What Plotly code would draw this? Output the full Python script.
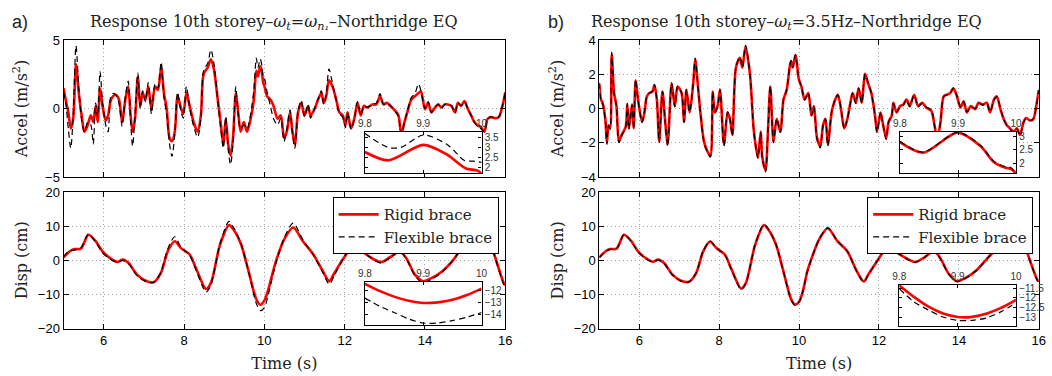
import plotly.graph_objects as go

# ---------------- data ----------------
acc_a_t = [5.00,5.06,5.12,5.18,5.24,5.31,5.38,5.45,5.52,5.60,5.68,5.74,5.80,5.85,5.91,5.97,6.05,6.11,6.17,6.23,
           6.30,6.38,6.46,6.54,6.61,6.67,6.72,6.78,6.85,6.91,6.97,7.04,7.11,7.19,7.28,7.35,7.43,7.50,7.57,7.64,
           7.70,7.77,7.84,7.91,7.98,8.06,8.14,8.24,8.34,8.42,8.49,8.59,8.67,8.75,8.84,8.92,8.98,9.04,9.10,9.16,
           9.22,9.29,9.35,9.41,9.49,9.57,9.66,9.74,9.80,9.84,9.90,9.94,9.97,10.00,10.07,10.15,10.23,10.33,10.41,10.49,
           10.56,10.64,10.70,10.76,10.84,10.92,11.00,11.09,11.15,11.25,11.34,11.42,11.48,11.54,11.61,11.70,11.79,11.87,11.95,12.02,
           12.07,12.16,12.24,12.32,12.40,12.48,12.56,12.69,12.79,12.88,12.97,13.05,13.14,13.26,13.34,13.41,13.49,13.57,13.66,13.75,
           13.84,13.90,14.00,14.08,14.16,14.25,14.33,14.41,14.49,14.57,14.66,14.75,14.82,14.90,14.98,15.07,15.15,15.23,15.31,15.39,
           15.48,15.56,15.64,15.76,15.84,15.93,16.00]
acc_a_rigid = [1.48,0.54,-0.28,-1.46,-0.75,3.24,1.13,-0.5,-1.69,-1.22,-0.5,-0.99,0.19,-0.99,1.48,0.19,-0.87,-0.5,0.54,0.89,
               1.0,0.66,-0.99,0.66,1.6,-0.5,-1.69,-0.75,2.3,0.19,1.13,0.66,1.6,-0.05,1.6,1.36,3.0,1.13,-0.05,-2.16,
               -2.39,-1.69,0.89,0.19,-0.4,1.13,0.19,-0.99,-1.69,-0.5,2.54,3.0,3.6,2.77,0.66,-1.22,-2.63,-0.75,-2.63,-3.45,
               -2.16,1.13,-0.28,-1.69,-0.99,-1.69,-0.75,0.66,2.76,2.34,3.1,2.66,1.93,1.66,0.89,0.66,0.19,-0.75,-0.5,-2.16,
               -1.69,-0.28,-1.69,-2.63,-0.28,0.42,-0.5,0.19,-0.5,-0.05,0.66,1.13,0.42,0.89,2.07,1.6,0.66,-0.28,-0.5,-1.22,
               -0.28,-1.46,-0.75,0.42,-0.5,0.19,0.07,0.3,0.3,0.89,0.3,0.42,0.19,-0.17,-0.5,-1.9,-0.99,-0.17,0.66,0.89,
               1.13,1.24,-0.05,0.42,-0.28,0.07,0.3,0.07,0.3,0.3,0.19,-0.28,0.42,0.19,0.54,-0.05,-0.5,-0.99,-1.22,-1.34,
               -1.69,-0.75,-0.63,-0.7,-0.63,0.19,1.2]
acc_a_flex = [1.2,0.3,-1.5,-2.9,-0.5,4.6,1.5,-0.8,-1.7,-1.0,-1.2,-2.6,0.4,-0.6,2.7,0.5,-1.2,-1.7,0.8,1.1,
              1.0,0.4,-1.3,0.9,2.0,-0.9,-2.75,-0.5,2.6,0.0,1.3,0.5,1.9,-0.4,1.8,1.5,3.4,0.8,-0.4,-2.6,
              -3.5,-1.9,1.2,0.0,-0.7,1.6,0.1,-1.3,-2.1,-0.7,2.8,3.3,4.3,3.2,0.6,-1.6,-2.9,-0.6,-3.0,-4.1,
              -2.5,1.6,-0.5,-1.5,-1.2,-1.5,-0.4,1.4,3.69,2.99,3.62,3.12,2.35,2.24,1.2,0.2,-0.75,-1.2,-0.7,-2.4,
              -1.5,-0.1,-1.8,-2.9,-0.2,0.6,-0.6,0.3,-0.7,0.0,0.7,1.3,0.3,1.0,2.9,1.8,0.6,-0.4,-0.6,-1.4,
              -0.3,-1.5,-0.8,0.5,-0.5,0.2,0.1,0.3,0.4,1.1,0.3,0.4,0.2,-0.2,-0.6,-1.9,-1.0,-0.1,0.8,1.1,
              1.8,1.3,0.0,0.5,-0.3,0.1,0.3,0.0,0.3,0.3,0.2,-0.3,0.4,0.2,0.5,0.0,-0.5,-1.0,-1.3,-1.46,
              -1.7,-0.8,-0.6,-0.7,-0.6,0.2,1.2]

acc_b_t = [5.00,5.04,5.08,5.15,5.19,5.23,5.27,5.31,5.37,5.43,5.49,5.56,5.66,5.70,5.74,5.82,5.86,5.91,5.97,6.07,
           6.13,6.19,6.25,6.33,6.38,6.44,6.50,6.58,6.65,6.71,6.81,6.89,6.96,7.06,7.12,7.18,7.26,7.35,7.40,7.47,
           7.53,7.62,7.70,7.78,7.84,7.89,7.96,8.02,8.12,8.21,8.27,8.33,8.42,8.52,8.58,8.66,8.77,8.87,8.97,9.04,
           9.08,9.16,9.22,9.28,9.36,9.44,9.53,9.61,9.69,9.77,9.80,9.84,9.91,9.95,9.97,10.00,10.06,10.14,10.23,10.31,
           10.37,10.45,10.53,10.60,10.66,10.72,10.83,10.97,11.05,11.13,11.21,11.27,11.34,11.42,11.49,11.57,11.65,11.73,11.81,11.90,
           11.95,12.04,12.09,12.18,12.24,12.32,12.36,12.44,12.53,12.61,12.69,12.77,12.88,12.98,13.08,13.18,13.31,13.39,13.46,13.54,
           13.62,13.70,13.78,13.86,13.94,14.04,14.12,14.20,14.30,14.41,14.49,14.60,14.70,14.78,14.88,14.95,15.04,15.12,15.20,15.28,
           15.37,15.45,15.53,15.62,15.68,15.78,15.86,15.95,16.00]
acc_b_rigid = [1.46,0.53,0.34,-0.6,-2.0,-0.98,-1.16,3.15,0.9,0.15,-1.92,-1.54,-1.07,0.24,-1.16,0.24,-1.16,1.65,0.53,-0.79,
               -0.23,0.71,0.9,1.0,1.37,0.53,-1.92,1.0,-0.79,-2.1,1.46,0.15,1.28,0.9,-0.79,1.09,-0.23,1.46,2.87,1.28,
               -0.23,-1.92,-2.48,-2.76,1.0,-0.23,0.15,1.09,-2.1,-0.23,-0.6,-1.54,2.4,2.97,2.4,3.62,2.03,-1.35,-2.85,-1.35,
               -2.85,-3.6,-1.35,1.28,-1.92,-0.6,-1.35,0.53,1.09,2.5,2.78,2.4,3.12,2.6,2.06,1.66,1.28,0.53,0.9,-0.41,
               0.15,-1.73,-2.2,-0.98,-0.6,-2.1,-0.04,0.81,-0.04,-1.16,-0.6,0.15,0.9,0.34,1.18,0.34,2.03,1.46,0.9,-0.41,
               -1.35,-0.23,-0.79,-1.73,-0.79,-0.41,0.34,-0.23,0.15,0.24,0.53,0.15,0.81,0.15,0.34,0.06,-0.13,-0.98,-1.8,-0.79,
               0.71,0.81,0.9,1.18,0.81,0.06,0.43,-0.23,0.15,-0.04,0.34,0.24,0.34,-0.23,0.53,0.71,-0.04,-0.6,-0.98,-1.16,
               -1.35,-1.16,-1.54,-0.79,-0.56,-0.7,-0.64,0.34,1.09]
acc_b_flex = [1.5,0.5,0.3,-0.7,-2.1,-1.0,-1.2,3.3,0.9,0.1,-2.0,-1.6,-1.1,0.3,-1.2,0.2,-1.2,1.7,0.5,-0.8,
              -0.2,0.7,0.9,1.0,1.4,0.5,-2.0,1.0,-0.8,-2.2,1.5,0.1,1.3,0.9,-0.8,1.1,-0.2,1.5,2.95,1.3,
              -0.2,-2.0,-2.5,-2.85,1.0,-0.2,0.1,1.1,-2.2,-0.2,-0.6,-1.6,2.4,3.0,2.4,3.7,2.0,-1.4,-2.9,-1.4,
              -2.9,-3.7,-1.4,1.3,-2.0,-0.6,-1.4,0.5,1.1,2.5,2.8,2.4,3.15,2.6,2.1,1.68,1.3,0.5,0.9,-0.4,
              0.1,-1.8,-2.3,-1.0,-0.6,-2.2,0.0,0.8,0.0,-1.2,-0.6,0.1,0.9,0.3,1.2,0.3,2.0,1.5,0.9,-0.4,
              -1.4,-0.2,-0.8,-1.8,-0.8,-0.4,0.3,-0.2,0.1,0.2,0.5,0.1,0.8,0.1,0.3,0.1,-0.1,-1.0,-1.85,-0.8,
              0.7,0.8,0.9,1.2,0.8,0.1,0.4,-0.2,0.1,0.0,0.3,0.2,0.3,-0.2,0.5,0.7,0.0,-0.6,-1.0,-1.2,
              -1.4,-1.2,-1.6,-0.8,-0.6,-0.7,-0.6,0.3,1.1]

disp_t = [5.00,5.08,5.15,5.27,5.43,5.62,5.80,5.97,6.13,6.34,6.47,6.62,6.83,7.03,7.24,7.42,7.60,7.77,7.93,8.14,
          8.30,8.55,8.67,8.90,9.12,9.24,9.42,9.61,9.80,9.90,10.00,10.10,10.20,10.31,10.51,10.72,10.96,11.21,11.44,11.62,
          11.74,11.99,12.19,12.44,12.68,12.91,13.13,13.38,13.54,13.75,13.95,14.16,14.44,14.73,14.90,15.08,15.35,15.60,15.71,15.96,
          16.00]
disp_a_rigid = [0.9,1.8,2.6,3.3,3.4,7.5,5.6,2.6,0.9,-0.5,0.2,-0.8,-4.2,-5.9,-6.4,-3.8,2.8,5.6,3.5,1.7,
                -2.4,-8.4,-6.6,4.7,10.3,8.9,4.7,-3.3,-11.4,-13.0,-11.8,-8.5,-4.0,0.5,6.5,9.6,5.6,1.9,-2.8,-6.1,
                -3.8,0.9,3.7,2.5,0.6,-0.5,0.9,2.6,0.5,-4.2,-6.1,-5.2,-3.1,0.5,3.5,6.5,11.5,6.3,2.3,-6.6,
                -7.3]
disp_a_flex = [1.0,2.2,2.8,3.0,3.6,7.7,5.3,2.2,0.6,-0.6,0.0,-1.0,-4.5,-6.1,-6.5,-3.6,3.5,6.9,3.8,1.5,
               -2.8,-9.3,-7.2,5.0,11.4,9.5,4.9,-3.5,-12.6,-14.75,-13.85,-10.0,-5.0,0.0,7.0,10.9,6.0,1.8,-3.2,-7.0,
               -4.5,1.0,4.2,2.6,0.5,-0.8,0.8,2.5,0.3,-4.5,-6.6,-5.6,-3.3,0.5,3.6,6.7,12.0,6.5,2.2,-7.0,
               -7.8]
disp_b_rigid = [0.9,1.8,2.6,3.3,3.4,7.5,5.6,2.6,0.9,-0.4,0.2,-0.8,-4.2,-5.9,-6.3,-3.8,2.6,5.5,3.6,1.7,
                -2.4,-8.3,-6.6,4.5,10.3,8.9,4.7,-3.3,-11.37,-12.97,-12.1,-8.8,-3.5,0.5,6.3,9.4,5.6,2.6,-3.1,-6.2,
                -4.0,0.4,3.5,2.3,0.6,-0.5,0.8,2.7,0.5,-4.0,-6.1,-5.2,-2.9,0.8,2.9,6.0,10.0,6.3,2.3,-5.6,
                -6.1]
disp_b_flex = [0.9,1.8,2.6,3.2,3.4,7.6,5.6,2.5,0.8,-0.5,0.1,-0.9,-4.3,-6.0,-6.4,-3.8,2.7,5.6,3.6,1.6,
               -2.5,-8.5,-6.7,4.6,10.5,9.0,4.7,-3.4,-11.53,-13.15,-12.25,-8.9,-3.6,0.4,6.4,9.5,5.6,2.6,-3.2,-6.3,
               -4.1,0.4,3.6,2.3,0.5,-0.6,0.8,2.7,0.4,-4.1,-6.2,-5.3,-3.0,0.8,3.0,6.1,10.2,6.3,2.2,-5.8,
               -6.3]

# zoomed insets (t = 9.8 ... 10 s)
zin_a_acc_t_r = [9.80,9.84,9.90,9.939,9.959,9.973,9.993,10.00]
zin_a_acc_r = [2.76,2.34,3.12,2.66,2.22,1.93,1.82,1.66]
zin_a_acc_t_f = [9.80,9.84,9.862,9.90,9.942,9.97,9.985,10.00]
zin_a_acc_f = [3.69,2.99,2.99,3.62,3.12,2.34,2.30,2.24]
zin_b_acc_t = [9.80,9.84,9.899,9.939,9.962,9.982,9.99,10.00]
zin_b_acc_r = [2.78,2.40,3.12,2.63,2.06,1.86,1.83,1.66]
zin_b_acc_f = [2.80,2.42,3.13,2.66,2.09,1.90,1.88,1.68]
zin_disp_t = [9.80,9.825,9.85,9.875,9.90,9.925,9.95,9.975,10.00]
zin_a_disp_r = [-11.4,-12.0,-12.49,-12.85,-13.03,-12.98,-12.76,-12.35,-11.8]
zin_a_disp_f = [-12.62,-13.3,-13.85,-14.4,-14.75,-14.75,-14.54,-14.25,-13.85]
zin_b_disp_r = [-11.37,-11.95,-12.45,-12.8,-12.98,-12.97,-12.8,-12.5,-12.1]
zin_b_disp_f = [-11.53,-12.2,-12.62,-12.98,-13.15,-13.15,-13.02,-12.7,-12.25]

time_ticks = [6, 8, 10, 12, 14, 16]
inset_ticks = [9.8, 9.9, 10.0]

# ---------------- layout helpers ----------------
W, H = 1052, 376
def dx(a, b):
    return [a / W, b / W]
def dy(top, bottom):
    return [1 - bottom / H, 1 - top / H]

RED = '#ff0000'
SANS = 'Liberation Sans, Arial, sans-serif'
TICKFONT = dict(family=SANS, size=13, color='black')
SERIF = 'DejaVu Serif, Liberation Serif, serif'
TITLEFONT = dict(family=SERIF, size=16, color='#222')

def main_axis(domain, rng, tickvals, showlabels, anchor, title=None, standoff=0):
    d = dict(domain=domain, range=rng, tickvals=tickvals, showticklabels=showlabels, anchor=anchor,
             showline=True, linecolor='black', linewidth=1, mirror='ticks', ticks='inside', ticklen=5,
             tickcolor='black', showgrid=True, gridcolor='#a0a0a0', griddash='1px,3px', gridwidth=1,
             zeroline=False, tickfont=TICKFONT, fixedrange=True)
    if title:
        d['title'] = dict(text=title, font=TITLEFONT, standoff=standoff)
    return d

def inset_axis(domain, rng, tickvals, side, anchor):
    return dict(domain=domain, range=rng, tickvals=tickvals, side=side, anchor=anchor,
                showline=True, linecolor='black', linewidth=1.2, mirror='ticks', ticks='inside', ticklen=3,
                tickcolor='black', showgrid=False, zeroline=False,
                tickfont=dict(family=SANS, size=10, color='#333333'),
                fixedrange=True)

fig = go.Figure()

def add_pair(t_r, y_r, t_f, y_f, xa, ya, legend=None, wr=2.6):
    show = legend is not None
    fig.add_trace(go.Scatter(x=t_r, y=y_r, mode='lines', line=dict(color=RED, width=wr, shape='spline', smoothing=0.8),
                             name='Rigid brace', xaxis=xa, yaxis=ya, showlegend=show,
                             legend=legend if show else 'legend'))
    fig.add_trace(go.Scatter(x=t_f, y=y_f, mode='lines', line=dict(color='black', width=1.2, dash='6px,4px', shape='spline', smoothing=0.8),
                             name='Flexible brace', xaxis=xa, yaxis=ya, showlegend=show,
                             legend=legend if show else 'legend'))

# main panels
add_pair(acc_a_t, acc_a_rigid, acc_a_t, acc_a_flex, 'x', 'y')
add_pair(disp_t, disp_a_rigid, disp_t, disp_a_flex, 'x2', 'y2', legend='legend')
add_pair(acc_b_t, acc_b_rigid, acc_b_t, acc_b_flex, 'x3', 'y3')
add_pair(disp_t, disp_b_rigid, disp_t, disp_b_flex, 'x4', 'y4', legend='legend2')

# insets
inset_ranges = {
    5: [1.68, 3.78],
    6: [-14.96, -11.26],
    7: [1.66, 3.15],
    8: [-13.46, -11.33],
}
for k, rng in inset_ranges.items():
    x0, x1 = inset_ticks[0], inset_ticks[-1]
    fig.add_trace(go.Scatter(x=[x0, x1, x1, x0, x0], y=[rng[0], rng[0], rng[1], rng[1], rng[0]],
                             fill='toself', fillcolor='white', mode='none', hoverinfo='skip',
                             xaxis='x%d' % k, yaxis='y%d' % k, showlegend=False))
    if k == 5:
        add_pair(zin_a_acc_t_r, zin_a_acc_r, zin_a_acc_t_f, zin_a_acc_f, 'x5', 'y5')
    elif k == 6:
        add_pair(zin_disp_t, zin_a_disp_r, zin_disp_t, zin_a_disp_f, 'x6', 'y6')
    elif k == 7:
        add_pair(zin_b_acc_t, zin_b_acc_r, zin_b_acc_t, zin_b_acc_f, 'x7', 'y7')
    else:
        add_pair(zin_disp_t, zin_b_disp_r, zin_disp_t, zin_b_disp_f, 'x8', 'y8')

XA = dx(57.3, 505.0)
XB = dx(600.3, 1045.7)
YT = dy(34.5, 177.0)
YB = dy(192.7, 335.0)

legend_common = dict(xanchor='right', yanchor='top', bgcolor='white', bordercolor='black', borderwidth=1,
                     font=dict(family=SERIF, size=15, color='#222'), tracegroupgap=0, itemwidth=40)

ACC_T = 'Accel (m/s<sup>2</sup>)'
DISP_T = 'Disp (cm)'
TIME_T = 'Time (s)'

layout = dict(
    width=W, height=H, margin=dict(l=0, r=0, t=0, b=0),
    font=dict(family=SANS, size=13, color='#222'),
    paper_bgcolor='white', plot_bgcolor='white',
    xaxis=main_axis(XA, [5, 16], time_ticks, False, 'y'),
    yaxis=main_axis(YT, [-5, 5], [-5, 0, 5], True, 'x', ACC_T, 13),
    xaxis2=main_axis(XA, [5, 16], time_ticks, True, 'y2', TIME_T, 10),
    yaxis2=main_axis(YB, [-20, 20], [-20, -10, 0, 10, 20], True, 'x2', DISP_T, 6),
    xaxis3=main_axis(XB, [5, 16], time_ticks, False, 'y3'),
    yaxis3=main_axis(YT, [-4, 4], [-4, -2, 0, 2, 4], True, 'x3', ACC_T, 13),
    xaxis4=main_axis(XB, [5, 16], time_ticks, True, 'y4', TIME_T, 10),
    yaxis4=main_axis(YB, [-20, 20], [-20, -10, 0, 10, 20], True, 'x4', DISP_T, 6),
    xaxis5=inset_axis(dx(362.7, 481.0), [9.8, 10.0], inset_ticks, 'top', 'y5'),
    yaxis5=inset_axis(dy(130.0, 173.3), inset_ranges[5], [2, 2.5, 3, 3.5], 'right', 'x5'),
    xaxis6=inset_axis(dx(362.7, 481.0), [9.8, 10.0], inset_ticks, 'top', 'y6'),
    yaxis6=inset_axis(dy(286.7, 331.7), inset_ranges[6], [-14, -13, -12], 'right', 'x6'),
    xaxis7=inset_axis(dx(905.0, 1022.7), [9.8, 10.0], inset_ticks, 'top', 'y7'),
    yaxis7=inset_axis(dy(130.0, 173.3), inset_ranges[7], [2, 2.5, 3], 'right', 'x7'),
    xaxis8=inset_axis(dx(904.3, 1022.7), [9.8, 10.0], inset_ticks, 'top', 'y8'),
    yaxis8=inset_axis(dy(289.3, 332.7), inset_ranges[8], [-13, -12.5, -12, -11.5], 'right', 'x8'),
    legend=dict(x=498.3 / W, y=1 - 198 / H, **legend_common),
    legend2=dict(x=1040 / W, y=1 - 198 / H, **legend_common),
    showlegend=True,
)
fig.update_layout(**layout)

ann = []
def text(x, y, s, size=14, family=SERIF, angle=0, xanchor='center'):
    ann.append(dict(x=x / W, y=1 - y / H, xref='paper', yref='paper', text=s, showarrow=False,
                    font=dict(family=family, size=size, color='#222'), textangle=angle,
                    xanchor=xanchor, yanchor='middle'))

text(3, 16, 'a)', size=18, family=SANS, xanchor='left')
text(546, 16, 'b)', size=18, family=SANS, xanchor='left')
text(271, 16, 'Response 10th storey–<i>ω<sub>t</sub></i>=<i>ω<sub>n₁</sub></i>–Northridge EQ', size=16)
text(790, 16, 'Response 10th storey–<i>ω<sub>t</sub></i>=3.5Hz–Northridge EQ', size=16)
fig.update_layout(annotations=ann)

fig.write_html("out.html")
